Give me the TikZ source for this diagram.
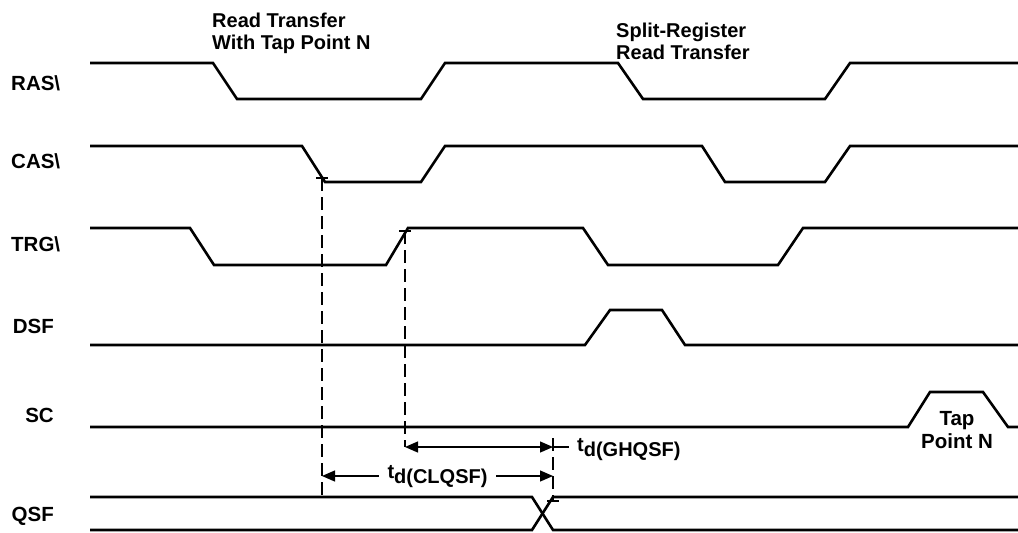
\documentclass[tikz,border=0pt]{standalone}
\usepackage{fontspec}
\setmainfont{Liberation Sans}
\usetikzlibrary{arrows.meta, positioning}

\begin{document}
\begin{tikzpicture}[x=1pt, y=-1pt,
		wave/.style={line width=2.6pt, line join=miter},
		guide/.style={line width=1.3pt, dash pattern=on 13pt off 6pt},
		dimarr/.style={line width=1.3pt,
			{Triangle[length=13pt,width=11pt]}-{Triangle[length=13pt,width=11pt]}},
		sig/.style={font=\fontsize{20.5}{23}\selectfont\bfseries, inner sep=0pt},
		lbl/.style={font=\fontsize{20}{22}\selectfont\bfseries, align=left, inner sep=0pt}
	]
	\useasboundingbox (0,0) rectangle (1018,533);
	% signal names
	\node[sig, anchor=west] (ras) at (11,83) {RAS\textbackslash};
	\node[sig, anchor=west] (cas) at (11,161) {CAS\textbackslash};
	\node[sig, anchor=west] (trg) at (11,244) {TRG\textbackslash};
	\node[sig, anchor=east] (dsf) at (54,326) {DSF};
	\node[sig, anchor=east] (sc) at (54,415) {SC};
	\node[sig, anchor=east] (qsf) at (54,516) {QSF};
	% cycle labels
	\node[lbl, anchor=north west] (rdtap) at (212,13) {Read Transfer\\With Tap Point N};
	\node[lbl, anchor=north west] (split) at (616,23) {Split-Register\\Read Transfer};
	% waveforms
	\draw[wave] (90,63) -- (213,63) -- (237,99) -- (421,99) -- (445,63) -- (618,63)
		-- (643,99) -- (825,99) -- (850,63) -- (1018,63);
	\draw[wave] (90,146) -- (302,146) -- (325,182) -- (421,182) -- (445,146) -- (702,146)
		-- (725,182) -- (825,182) -- (850,146) -- (1018,146);
	\draw[wave] (90,228) -- (190,228) -- (214,265) -- (386,265) -- (408,228) -- (583,228)
		-- (608,265) -- (778,265) -- (803,228) -- (1018,228);
	\draw[wave] (90,345) -- (585,345) -- (610,310) -- (662,310) -- (685,345) -- (1018,345);
	\draw[wave] (90,427) -- (908,427) -- (930,392) -- (983,392) -- (1008,427) -- (1018,427);
	\draw[wave] (90,497) -- (532,497) -- (553,530) -- (1018,530);
	\draw[wave] (90,530) -- (532,530) -- (553,497) -- (1018,497);
	\node[sig, align=center] (tapn) at (957,430) {Tap\\Point N};
	% reference points
	\coordinate (casfall) at (322,178);
	\coordinate (trgrise) at (405,231);
	\coordinate (clqa) at (322,476);
	\coordinate (clqb) at (553,476);
	\coordinate (ghqa) at (405,447);
	\coordinate (ghqb) at (553,447);
	\coordinate (qsfa) at (322,497);
	\coordinate (qsftop) at (553,438);
	\coordinate (qsfbot) at (553,501);
	% guides
	\draw[line width=1.3pt] ([xshift=-6pt]casfall) -- ([xshift=6pt]casfall);
	\draw[line width=1.3pt] ([xshift=-6pt]trgrise) -- ([xshift=6pt]trgrise);
	\draw[guide] (casfall) -- (qsfa);
	\draw[guide] (trgrise) -- (ghqa);
	\draw[guide] (qsftop) -- (qsfbot);
	\draw[line width=1.3pt] ([xshift=-6pt]qsfbot) -- ([xshift=6pt]qsfbot);
	% delays
	\draw[dimarr] (ghqa) -- (ghqb);
	\draw[line width=1.3pt] (ghqb) -- ++(16,0);
	\node[lbl, anchor=west] (tghq) at (577,450) {t\raisebox{-5pt}{d(GHQSF)}};
	\draw[dimarr] (clqa) -- (clqb)
		node[lbl, midway, fill=white, inner xsep=9pt, inner ysep=2pt, yshift=-1pt] (tclq)
		{t\raisebox{-5pt}{d(CLQSF)}};
\end{tikzpicture}
\end{document}
